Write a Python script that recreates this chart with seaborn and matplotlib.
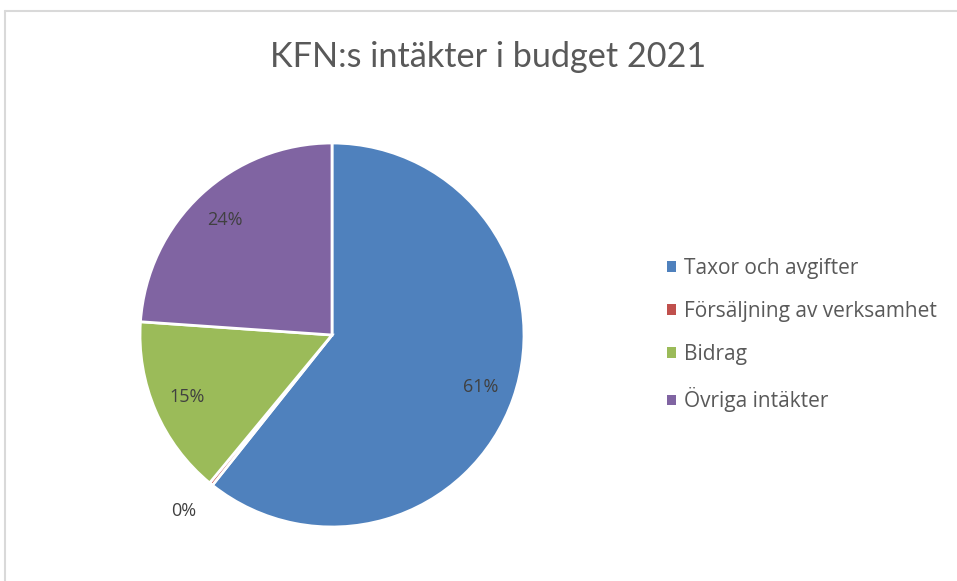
import numpy as np
import matplotlib
matplotlib.use("Agg")
import matplotlib.pyplot as plt
from matplotlib.patches import Patch
from matplotlib.lines import Line2D
import seaborn as sns

# data
categories = ["Taxor och avgifter", "Försäljning av verksamhet", "Bidrag", "Övriga intäkter"]
shares = [60.7, 0.3, 15.1, 23.9]
colors = ["#4F81BD", "#C0504D", "#9BBB59", "#8064A2"]
title = "KFN:s intäkter i budget 2021"

sns.set_theme(style="white")
plt.rcParams["font.family"] = ["Lato", "DejaVu Sans"]
palette = sns.color_palette(colors)

fig = plt.figure(figsize=(9.57, 5.81), dpi=100)

# light chart frame (only top and left edges visible)
fig.add_artist(Line2D([5 / 957, 1], [1 - 11 / 581, 1 - 11 / 581], color="#d9d9d9", lw=1.5,
                      transform=fig.transFigure))
fig.add_artist(Line2D([5 / 957, 5 / 957], [0, 1 - 11 / 581], color="#d9d9d9", lw=1.5,
                      transform=fig.transFigure))

ax = fig.add_axes([140 / 957, 54 / 581, 384 / 957, 384 / 581])
wedges, texts, autotexts = ax.pie(
    shares, colors=palette, startangle=90, counterclock=False,
    autopct=lambda p: f"{p:.0f}%", pctdistance=0.82,
    wedgeprops=dict(edgecolor="white", linewidth=2),
    textprops=dict(color="#404040", fontsize=13, family=["Open Sans", "DejaVu Sans"]),
)
ax.set_xlim(-1, 1)
ax.set_ylim(-1, 1)

# tiny slice: put its label outside, as the original does
for w, t, s in zip(wedges, autotexts, shares):
    if s < 1:
        theta = np.deg2rad((w.theta1 + w.theta2) / 2)
        t.set_position((1.18 * np.cos(theta) - 0.03, 1.18 * np.sin(theta)))

fig.text(488 / 957, 1 - 57 / 581, title, ha="center", va="center",
         fontsize=24.7, color="#595959")

handles = [Patch(facecolor=c, edgecolor="none") for c in palette]
leg = fig.legend(handles, categories, loc="center left",
                 bbox_to_anchor=(667 / 957, 1 - 335 / 581), frameon=False,
                 prop=dict(family=["Open Sans", "DejaVu Sans"], size=15),
                 handlelength=0.42, handleheight=0.42,
                 handletextpad=0.4, labelspacing=1.07, borderpad=0, borderaxespad=0)
for t in leg.get_texts():
    t.set_color("#595959")

fig.savefig("out.png", dpi=100)
